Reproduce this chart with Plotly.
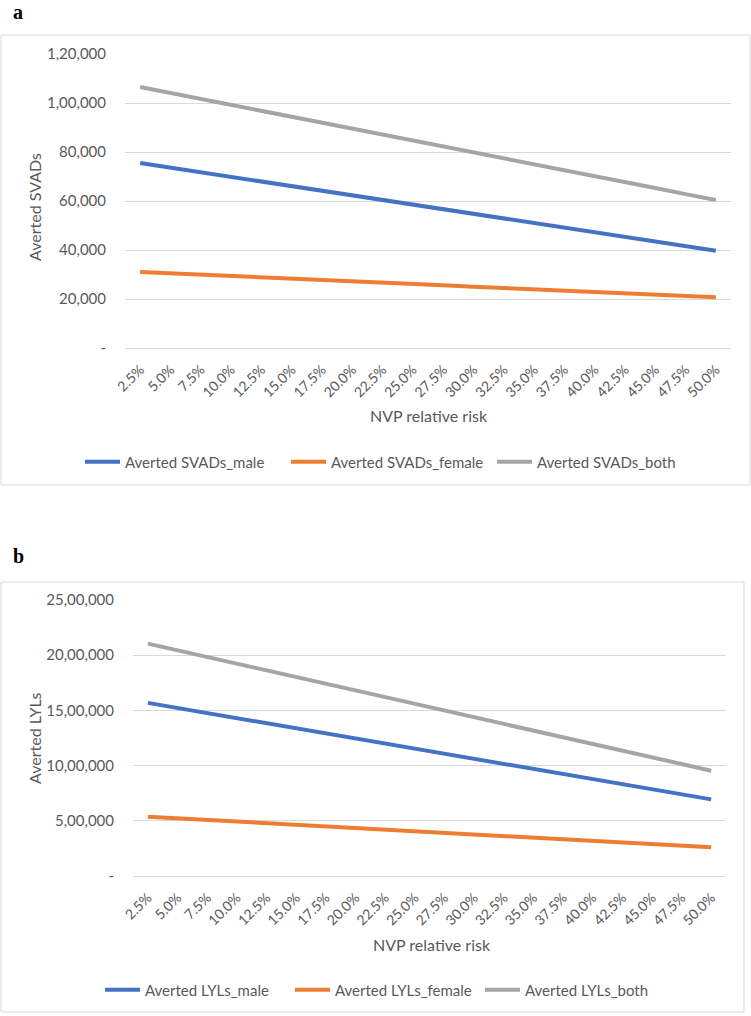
import plotly.graph_objects as go

# categories (NVP relative risk)
rr_labels = ["2.5%", "5.0%", "7.5%", "10.0%", "12.5%", "15.0%", "17.5%", "20.0%", "22.5%", "25.0%",
             "27.5%", "30.0%", "32.5%", "35.0%", "37.5%", "40.0%", "42.5%", "45.0%", "47.5%", "50.0%"]

# panel a - averted SVADs
svad_male = [75500, 73600, 71700, 69900, 68000, 66100, 64200, 62300, 60400, 58600,
             56700, 54800, 52900, 51000, 49100, 47300, 45400, 43500, 41600, 39700]
svad_female = [31000, 30500, 29900, 29400, 28800, 28300, 27700, 27200, 26700, 26100,
               25600, 25000, 24500, 24000, 23400, 22900, 22300, 21800, 21200, 20700]
svad_both = [106500, 104100, 101600, 99300, 96800, 94400, 91900, 89500, 87100, 84700,
             82300, 79800, 77400, 75000, 72500, 70200, 67700, 65300, 62800, 60400]

# panel b - averted LYLs
lyl_male = [1568000, 1522000, 1476000, 1430000, 1384000, 1338000, 1292000, 1246000, 1200000, 1154000,
            1108000, 1062000, 1016000, 970000, 924000, 878000, 832000, 786000, 740000, 694000]
lyl_female = [537000, 522400, 507800, 493300, 478700, 464100, 449500, 434900, 420400, 405800,
              391200, 376600, 362000, 347500, 332900, 318300, 303700, 289100, 274600, 260000]
lyl_both = [2105000, 2044400, 1983800, 1923300, 1862700, 1802100, 1741500, 1680900, 1620400, 1559800,
            1499200, 1438600, 1378000, 1317500, 1256900, 1196300, 1135700, 1075100, 1014600, 954000]

svad_ticks = [0, 20000, 40000, 60000, 80000, 100000, 120000]
svad_ticktext = ["-", "20,000", "40,000", "60,000", "80,000", "1,00,000", "1,20,000"]
lyl_ticks = [0, 500000, 1000000, 1500000, 2000000, 2500000]
lyl_ticktext = ["-", "5,00,000", "10,00,000", "15,00,000", "20,00,000", "25,00,000"]

W, H = 751, 1016
FONT = "Lato, 'Open Sans', sans-serif"
GREY_TXT = "#595959"
GRID = "#d9d9d9"
colors = ["#4472C4", "#ED7D31", "#A5A5A5"]


def px(x):
    return x / W


def py(y):
    return 1 - y / H


fig = go.Figure()

series_a = [("Averted SVADs_male", svad_male), ("Averted SVADs_female", svad_female),
            ("Averted SVADs_both", svad_both)]
series_b = [("Averted LYLs_male", lyl_male), ("Averted LYLs_female", lyl_female),
            ("Averted LYLs_both", lyl_both)]

for (name, vals), c in zip(series_a, colors):
    fig.add_trace(go.Scatter(x=rr_labels, y=vals, mode="lines", name=name,
                             line=dict(color=c, width=4), xaxis="x", yaxis="y", legend="legend"))
for (name, vals), c in zip(series_b, colors):
    fig.add_trace(go.Scatter(x=rr_labels, y=vals, mode="lines", name=name,
                             line=dict(color=c, width=4), xaxis="x2", yaxis="y2", legend="legend2"))

xcommon = dict(type="category", range=[-0.5, 19.5], tickangle=-45, showgrid=False,
               showline=False, zeroline=False, ticks="outside", ticklen=7,
               tickcolor="rgba(0,0,0,0)", automargin=False,
               tickfont=dict(family=FONT, size=14, color=GREY_TXT), fixedrange=True)
ycommon = dict(showgrid=True, gridcolor=GRID, gridwidth=1, zeroline=True, zerolinecolor=GRID,
               zerolinewidth=1, showline=False, ticks="outside", ticklen=15,
               tickcolor="rgba(0,0,0,0)", automargin=False,
               tickfont=dict(family=FONT, size=15, color=GREY_TXT), tickmode="array")

fig.update_layout(
    width=W, height=H, autosize=False,
    margin=dict(l=0, r=0, t=0, b=0, pad=0, autoexpand=False),
    paper_bgcolor="white", plot_bgcolor="white",
    showlegend=True,
    xaxis=dict(domain=[px(125), px(731)], anchor="y", **xcommon),
    yaxis=dict(domain=[py(348), py(54)], anchor="x", range=[0, 120000],
               tickvals=svad_ticks, ticktext=svad_ticktext, **ycommon),
    xaxis2=dict(domain=[px(133), px(726)], anchor="y2", **xcommon),
    yaxis2=dict(domain=[py(876), py(600)], anchor="x2", range=[0, 2500000],
                tickvals=lyl_ticks, ticktext=lyl_ticktext, **ycommon),
    legend=dict(orientation="h", x=px(80), xanchor="left", y=py(462), yanchor="middle",
                font=dict(family=FONT, size=15, color=GREY_TXT), itemwidth=35,
                entrywidth=156, bgcolor="rgba(0,0,0,0)"),
    legend2=dict(orientation="h", x=px(100), xanchor="left", y=py(990), yanchor="middle",
                 font=dict(family=FONT, size=15, color=GREY_TXT), itemwidth=35,
                 entrywidth=140, bgcolor="rgba(0,0,0,0)"),
)

# panel borders
fig.add_shape(type="rect", xref="paper", yref="paper", x0=px(1), x1=px(750), y0=py(485), y1=py(35),
              line=dict(color=GRID, width=1), layer="below")
fig.add_shape(type="rect", xref="paper", yref="paper", x0=px(1), x1=px(744), y0=py(1012), y1=py(582),
              line=dict(color=GRID, width=1), layer="below")

# panel letters
for letter, yy in [("a", 12), ("b", 556)]:
    fig.add_annotation(text="<b>%s</b>" % letter, xref="paper", yref="paper", x=px(11), y=py(yy),
                       xanchor="left", yanchor="middle", showarrow=False,
                       font=dict(family="Liberation Serif, Times New Roman, serif", size=20, color="black"))

# axis titles
fig.add_annotation(text="Averted SVADs", xref="paper", yref="paper", x=px(35), y=py(207),
                   textangle=-90, showarrow=False, xanchor="center", yanchor="middle",
                   font=dict(family=FONT, size=16, color=GREY_TXT))
fig.add_annotation(text="NVP relative risk", xref="paper", yref="paper", x=px(429), y=py(416),
                   showarrow=False, xanchor="center", yanchor="middle",
                   font=dict(family=FONT, size=16, color=GREY_TXT))
fig.add_annotation(text="Averted LYLs", xref="paper", yref="paper", x=px(34), y=py(738),
                   textangle=-90, showarrow=False, xanchor="center", yanchor="middle",
                   font=dict(family=FONT, size=16, color=GREY_TXT))
fig.add_annotation(text="NVP relative risk", xref="paper", yref="paper", x=px(432), y=py(944),
                   showarrow=False, xanchor="center", yanchor="middle",
                   font=dict(family=FONT, size=16, color=GREY_TXT))

fig.write_html("out.html", config={"displayModeBar": False},
               post_script="document.body.style.margin='0';")
